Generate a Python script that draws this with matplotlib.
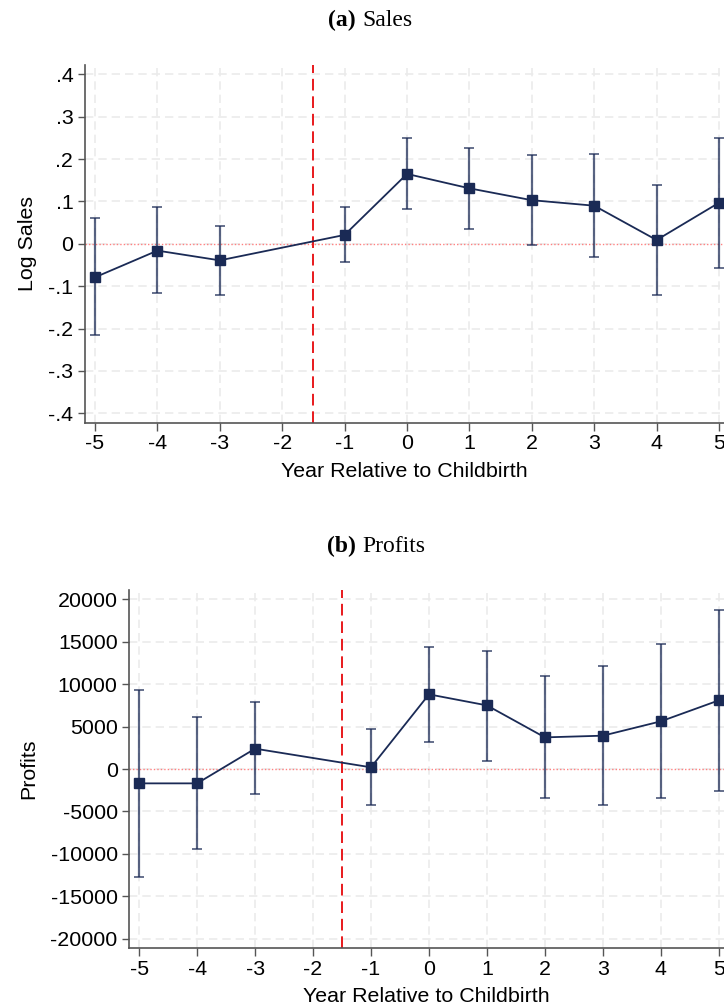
import matplotlib.pyplot as plt

years = [-5, -4, -3, -1, 0, 1, 2, 3, 4, 5]
year_ticks = [-5, -4, -3, -2, -1, 0, 1, 2, 3, 4, 5]

# Event-study estimates with 95% confidence bounds
sales_coef = [-0.079, -0.016, -0.039, 0.021, 0.165, 0.131, 0.103, 0.090, 0.009, 0.097]
sales_hi = [0.061, 0.088, 0.043, 0.086, 0.250, 0.226, 0.210, 0.212, 0.139, 0.250]
sales_lo = [-0.214, -0.117, -0.120, -0.043, 0.083, 0.036, -0.002, -0.032, -0.120, -0.057]
sales_yticks = [-0.4, -0.3, -0.2, -0.1, 0, 0.1, 0.2, 0.3, 0.4]
sales_ylabels = ['-.4', '-.3', '-.2', '-.1', '0', '.1', '.2', '.3', '.4']

profit_coef = [-1690, -1690, 2400, 200, 8800, 7500, 3730, 3930, 5620, 8090]
profit_hi = [9310, 6130, 7860, 4720, 14380, 13950, 10920, 12140, 14770, 18780]
profit_lo = [-12690, -9390, -2910, -4280, 3140, 980, -3380, -4280, -3420, -2630]
profit_yticks = [-20000, -15000, -10000, -5000, 0, 5000, 10000, 15000, 20000]

NAVY = '#1a2a55'
SANS = 'Liberation Sans'
SERIF = 'Liberation Serif'
FS = 15.4


def event_plot(ax, coef, lo, hi, yticks, ylabels, ylim, xlim, ylabel, ypad):
    err = [[c - l for c, l in zip(coef, lo)], [h - c for c, h in zip(coef, hi)]]
    ax.errorbar(years, coef, yerr=err, fmt='none', ecolor=NAVY, alpha=0.72,
                elinewidth=1.6, capsize=3.5, capthick=1.3, zorder=3)
    ax.plot(years, coef, color=NAVY, lw=1.3, marker='s', ms=7, zorder=4)
    ax.axhline(0, color='#ff8080', lw=1.0, ls=(0, (1, 1.5)), zorder=2)
    ax.axvline(-1.5, color='#e8191c', lw=1.4, ls=(0, (6, 3)), zorder=2)

    ax.set_xticks(year_ticks)
    ax.set_xticklabels([str(t) for t in year_ticks], fontsize=FS, family=SANS)
    ax.set_yticks(yticks)
    ax.set_yticklabels(ylabels, fontsize=FS, family=SANS)
    ax.set_xlim(*xlim)
    ax.set_ylim(*ylim)
    ax.grid(True, color='#ebebeb', lw=1.2, ls=(0, (5, 3)))
    ax.set_axisbelow(True)
    for side in ['top', 'right']:
        ax.spines[side].set_visible(False)
    for side in ['left', 'bottom']:
        ax.spines[side].set_color('#555555')
        ax.spines[side].set_linewidth(1.2)
    ax.tick_params(direction='out', length=5.4, width=1, color='#555555', pad=3)
    ax.set_xlabel('Year Relative to Childbirth', fontsize=FS, family=SANS, labelpad=6)
    ax.set_ylabel(ylabel, fontsize=FS, family=SANS, labelpad=ypad)


fig = plt.figure(figsize=(7.24, 10.08), dpi=100)

ax1 = fig.add_axes([0.1174, 0.5807, 0.8826, 0.3548])
event_plot(ax1, sales_coef, sales_lo, sales_hi, sales_yticks, sales_ylabels,
           (-0.422, 0.422), (-5.16, 5.08), 'Log Sales', 8)

ax2 = fig.add_axes([0.1786, 0.0592, 0.8214, 0.3555])
event_plot(ax2, profit_coef, profit_lo, profit_hi, profit_yticks,
           [str(t) for t in profit_yticks], (-21130, 21100), (-5.17, 5.09), 'Profits', 9)

# Panel headings: bold letter, regular name
for y, letter, name in [(0.980, '(a)', 'Sales'), (0.458, '(b)', 'Profits')]:
    fig.text(0.5, y, letter + ' ', fontsize=17, family=SERIF, weight='bold',
             ha='right', va='center')
    fig.text(0.5, y, name, fontsize=17, family=SERIF, ha='left', va='center')

fig.savefig('out.png', dpi=100)
